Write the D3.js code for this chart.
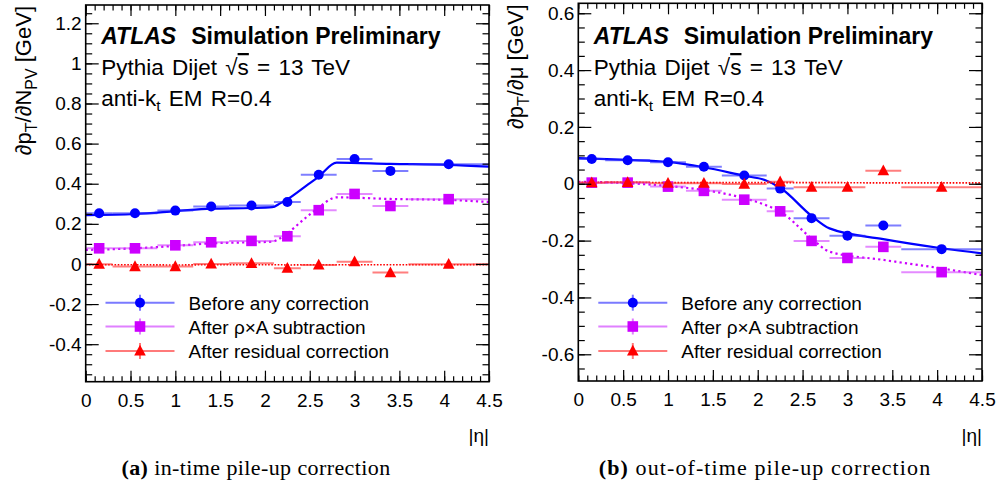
<!DOCTYPE html>
<html><head><meta charset="utf-8">
<script src="https://cdn.jsdelivr.net/npm/d3@7"></script>
<style>
html,body{margin:0;padding:0;background:#fff;}
svg text{font-family:"Liberation Sans",Arial,Helvetica,sans-serif;}
</style></head>
<body>
<svg id="chart" width="998" height="490"></svg>
<script>
// ---------------- data ----------------
const eta   = [0.15, 0.55, 1.0, 1.4, 1.85, 2.25, 2.6, 3.0, 3.4, 4.05];
const etaLo = [0.0, 0.3, 0.8, 1.2, 1.6, 2.1, 2.4, 2.8, 3.2, 3.6];
const etaHi = [0.3, 0.8, 1.2, 1.6, 2.1, 2.4, 2.8, 3.2, 3.6, 4.5];

// (a) in-time: dpT/dNPV
const npvBefore   = [0.253, 0.253, 0.266, 0.286, 0.291, 0.309, 0.445, 0.523, 0.464, 0.497];
const npvRhoA     = [0.078, 0.078, 0.093, 0.108, 0.115, 0.138, 0.268, 0.349, 0.289, 0.323];
const npvResidual = [-0.001, -0.013, -0.013, 0.000, 0.003, -0.021, -0.005, 0.011, -0.043, -0.001];
const npvFitEta      = [0, 0.55, 1.0, 1.4, 1.85, 2.08, 2.17, 2.25, 2.47, 2.59, 2.8, 3.4, 4.05, 4.5];
const npvFitBefore   = [0.243, 0.249, 0.263, 0.276, 0.279, 0.283, 0.302, 0.322, 0.393, 0.432, 0.505, 0.499, 0.494, 0.485];
const npvFitRhoA     = [0.070, 0.078, 0.090, 0.103, 0.108, 0.111, 0.128, 0.153, 0.236, 0.278, 0.332, 0.324, 0.319, 0.309];
const npvFitResidual = [-0.004, -0.004, -0.005, -0.004, -0.004, -0.004, -0.004, -0.005, -0.004, -0.004, -0.004, -0.004, -0.004, -0.003];

// (b) out-of-time: dpT/dmu
const muBefore   = [0.087, 0.083, 0.076, 0.060, 0.029, -0.017, -0.121, -0.183, -0.147, -0.230];
const muRhoA     = [0.004, 0.004, -0.010, -0.025, -0.056, -0.097, -0.201, -0.261, -0.222, -0.311];
const muResidual = [0.004, 0.005, 0.002, 0.002, -0.001, 0.007, -0.012, -0.012, 0.046, -0.012];
const muFitEta      = [0, 0.55, 1.0, 1.4, 1.85, 2.08, 2.25, 2.6, 2.8, 3.4, 4.05, 4.5];
const muFitBefore   = [0.090, 0.084, 0.077, 0.058, 0.028, 0.013, -0.014, -0.113, -0.157, -0.195, -0.227, -0.245];
const muFitRhoA     = [0.007, 0.002, -0.008, -0.022, -0.051, -0.074, -0.098, -0.192, -0.239, -0.268, -0.298, -0.321];
const muFitResidual = [0.005, 0.005, 0.004, 0.004, 0.004, 0.004, 0.004, 0.004, 0.004, 0.003, 0.003, 0.003];

const xTickLabels      = [0, 0.5, 1, 1.5, 2, 2.5, 3, 3.5, 4, 4.5];
const leftYTickLabels  = [-0.4, -0.2, 0, 0.2, 0.4, 0.6, 0.8, 1, 1.2];
const rightYTickLabels = [-0.6, -0.4, -0.2, 0, 0.2, 0.4, 0.6];
const legendLabels = ["Before any correction", "After \u03C1\u00D7A subtraction", "After residual correction"];

// ---------------- drawing ----------------
const svg = d3.select("#chart");
const fmt = d => String(+(+d).toFixed(2));

const styles = [
  {color:"#0000ff", err:"rgba(40,40,255,0.6)", leg:"#7a7aff", marker:"circle", dash:null, lw:2.2},
  {color:"#cc00ff", err:"rgba(210,60,255,0.6)", leg:"#e080ff", marker:"square", dash:"2.2,3.2", lw:2.2},
  {color:"#ff0000", err:"rgba(255,40,40,0.6)", leg:"#ff7a7a", marker:"triangle", dash:"1.6,1.6", lw:1.6}
];

function drawMarker(g, type, cx, cy, color) {
  if (type === "circle") {
    g.append("circle").attr("cx", cx).attr("cy", cy).attr("r", 5).attr("fill", color);
  } else if (type === "square") {
    g.append("rect").attr("x", cx - 5.3).attr("y", cy - 5.3).attr("width", 10.6).attr("height", 10.6).attr("fill", color);
  } else {
    g.append("path").attr("d", `M${cx},${cy-6.2}L${cx+5.8},${cy+4.6}L${cx-5.8},${cy+4.6}Z`).attr("fill", color);
  }
}

function panel(cfg) {
  const g = svg.append("g");
  const x = d3.scaleLinear().domain([0, 4.5]).range([cfg.px0, cfg.px1]);
  const y = d3.scaleLinear().domain(cfg.yDomain).range([cfg.py1, cfg.py0]);
  const clipId = "clip" + cfg.id;
  g.append("clipPath").attr("id", clipId).append("rect")
    .attr("x", cfg.px0).attr("y", cfg.py0).attr("width", cfg.px1 - cfg.px0).attr("height", cfg.py1 - cfg.py0);

  // fit lines
  const plot = g.append("g").attr("clip-path", `url(#${clipId})`);
  cfg.fits.forEach((vals, i) => {
    const line = d3.line().x((d, k) => x(cfg.fitEta[k])).y(d => y(d)).curve(d3.curveMonotoneX);
    const p = plot.append("path").attr("d", line(vals)).attr("fill", "none")
      .attr("stroke", styles[i].color).attr("stroke-width", styles[i].lw);
    if (styles[i].dash) p.attr("stroke-dasharray", styles[i].dash);
  });
  // points
  cfg.series.forEach((vals, i) => {
    const s = styles[i];
    vals.forEach((v, k) => {
      plot.append("line").attr("x1", x(etaLo[k])).attr("x2", x(etaHi[k]))
        .attr("y1", y(v)).attr("y2", y(v)).attr("stroke", s.err).attr("stroke-width", 2);
    });
    vals.forEach((v, k) => drawMarker(plot, s.marker, x(eta[k]), y(v), s.color));
  });

  // axes with inward ticks
  const yMinor = d3.range(-0.7, 1.301, 0.05).filter(v => v >= cfg.yDomain[0] && v <= cfg.yDomain[1]);
  const xMinor = d3.range(0, 4.501, 0.1);
  const ax = (sel, a) => sel.call(a).call(s => s.select(".domain").remove());

  const bottom = g.append("g").attr("transform", `translate(0,${cfg.py1})`);
  ax(bottom.append("g"), d3.axisBottom(x).tickValues(xMinor).tickSize(-5.5).tickFormat(""));
  ax(bottom.append("g"), d3.axisBottom(x).tickValues(xTickLabels).tickSize(-11).tickPadding(8).tickFormat(fmt));
  const top = g.append("g").attr("transform", `translate(0,${cfg.py0})`);
  ax(top.append("g"), d3.axisTop(x).tickValues(xMinor).tickSize(-5.5).tickFormat(""));
  ax(top.append("g"), d3.axisTop(x).tickValues(xTickLabels).tickSize(-11).tickFormat(""));
  const left = g.append("g").attr("transform", `translate(${cfg.px0},0)`);
  ax(left.append("g"), d3.axisLeft(y).tickValues(yMinor).tickSize(-6.5).tickFormat(""));
  ax(left.append("g"), d3.axisLeft(y).tickValues(cfg.yTicks).tickSize(-13).tickPadding(4).tickFormat(fmt));
  const right = g.append("g").attr("transform", `translate(${cfg.px1},0)`);
  ax(right.append("g"), d3.axisRight(y).tickValues(yMinor).tickSize(-6.5).tickFormat(""));
  ax(right.append("g"), d3.axisRight(y).tickValues(cfg.yTicks).tickSize(-13).tickFormat(""));
  g.selectAll(".tick line").attr("stroke", "#000").attr("stroke-width", 1.2);
  g.selectAll(".tick text").attr("font-size", 19).attr("fill", "#000")
    .style("font-family", "'Liberation Sans', Arial, sans-serif");
  bottom.selectAll(".tick text").attr("dy", "0.9em");

  // frame
  g.append("rect").attr("x", cfg.px0).attr("y", cfg.py0)
    .attr("width", cfg.px1 - cfg.px0).attr("height", cfg.py1 - cfg.py0)
    .attr("fill", "none").attr("stroke", "#000").attr("stroke-width", 1.6);

  // y title
  const yt = g.append("text").attr("transform", `translate(${cfg.ytX},${cfg.py0 + 1}) rotate(-90)`)
    .attr("text-anchor", "end").attr("font-size", 22);
  cfg.yTitle.forEach(part => {
    const t = yt.append("tspan").text(part.t);
    if (part.sub) t.attr("font-size", 16).attr("dy", 6);
    else if (part.after) t.attr("dy", -6);
  });
  // x title
  g.append("text").attr("x", cfg.px1).attr("y", 442).attr("text-anchor", "end")
    .attr("font-size", 19).text("|\u03B7|");

  // ATLAS label
  const lx = cfg.px0 + 15.5;
  g.append("text").attr("x", lx).attr("y", 44).attr("font-size", 23)
    .attr("font-weight", "bold").attr("font-style", "italic").text("ATLAS");
  g.append("text").attr("x", lx + 90).attr("y", 44).attr("font-size", 23)
    .attr("font-weight", "bold").text("Simulation Preliminary");
  const t2 = g.append("text").attr("x", lx).attr("y", 75).attr("font-size", 22.5).attr("word-spacing", 2);
  t2.append("tspan").text("Pythia Dijet \u221A");
  t2.append("tspan").attr("text-decoration", "overline").text("s");
  t2.append("tspan").text(" = 13 TeV");
  const t3 = g.append("text").attr("x", lx).attr("y", 106).attr("font-size", 22.5).attr("word-spacing", 2);
  t3.append("tspan").text("anti-k");
  t3.append("tspan").attr("font-size", 15.5).attr("dy", 5).text("t");
  t3.append("tspan").attr("dy", -5).text(" EM R=0.4");

  // legend
  const lg = g.append("g");
  legendLabels.forEach((lab, i) => {
    const yy = [302.7, 326.5, 351][i];
    const s = styles[i];
    lg.append("line").attr("x1", cfg.legX).attr("x2", cfg.legX + 69).attr("y1", yy).attr("y2", yy)
      .attr("stroke", s.leg).attr("stroke-width", 2);
    lg.append("line").attr("x1", cfg.legX + 34.5).attr("x2", cfg.legX + 34.5).attr("y1", yy - 8).attr("y2", yy + 8)
      .attr("stroke", s.leg).attr("stroke-width", 2);
    drawMarker(lg, s.marker, cfg.legX + 34.5, yy, s.color);
    lg.append("text").attr("x", cfg.legX + 83).attr("y", yy + 7).attr("font-size", 19).text(lab);
  });

  // caption
  const cap = g.append("text").attr("x", cfg.capX).attr("y", 475).attr("text-anchor", "middle")
    .attr("font-size", 22).attr("letter-spacing", cfg.capLS)
    .style("font-family", "'Liberation Serif', 'DejaVu Serif', serif");
  cap.append("tspan").attr("font-weight", "bold").text(cfg.capLabel);
  cap.append("tspan").text(" " + cfg.capText);
}

panel({
  id: "a", px0: 85.7, px1: 489, py0: 5, py1: 381.7,
  yDomain: [-0.587, 1.291], yTicks: leftYTickLabels, ytX: 31,
  yTitle: [{t:"\u2202p"},{t:"T", sub:true},{t:"/\u2202N", after:true},{t:"PV", sub:true},{t:" [GeV]", after:true}],
  fitEta: npvFitEta, fits: [npvFitBefore, npvFitRhoA, npvFitResidual],
  series: [npvBefore, npvRhoA, npvResidual],
  legX: 105.5, capX: 256, capLS: 0.4, capLabel: "(a)", capText: "in-time pile-up correction"
});
panel({
  id: "b", px0: 578.3, px1: 982, py0: 3.3, py1: 381,
  yDomain: [-0.694, 0.635], yTicks: rightYTickLabels, ytX: 523,
  yTitle: [{t:"\u2202p"},{t:"T", sub:true},{t:"/\u2202\u03BC", after:true},{t:" [GeV]"}],
  fitEta: muFitEta, fits: [muFitBefore, muFitRhoA, muFitResidual],
  series: [muBefore, muRhoA, muResidual],
  legX: 598.3, capX: 765, capLS: 1.1, capLabel: "(b)", capText: "out-of-time pile-up correction"
});
</script>
</body></html>
